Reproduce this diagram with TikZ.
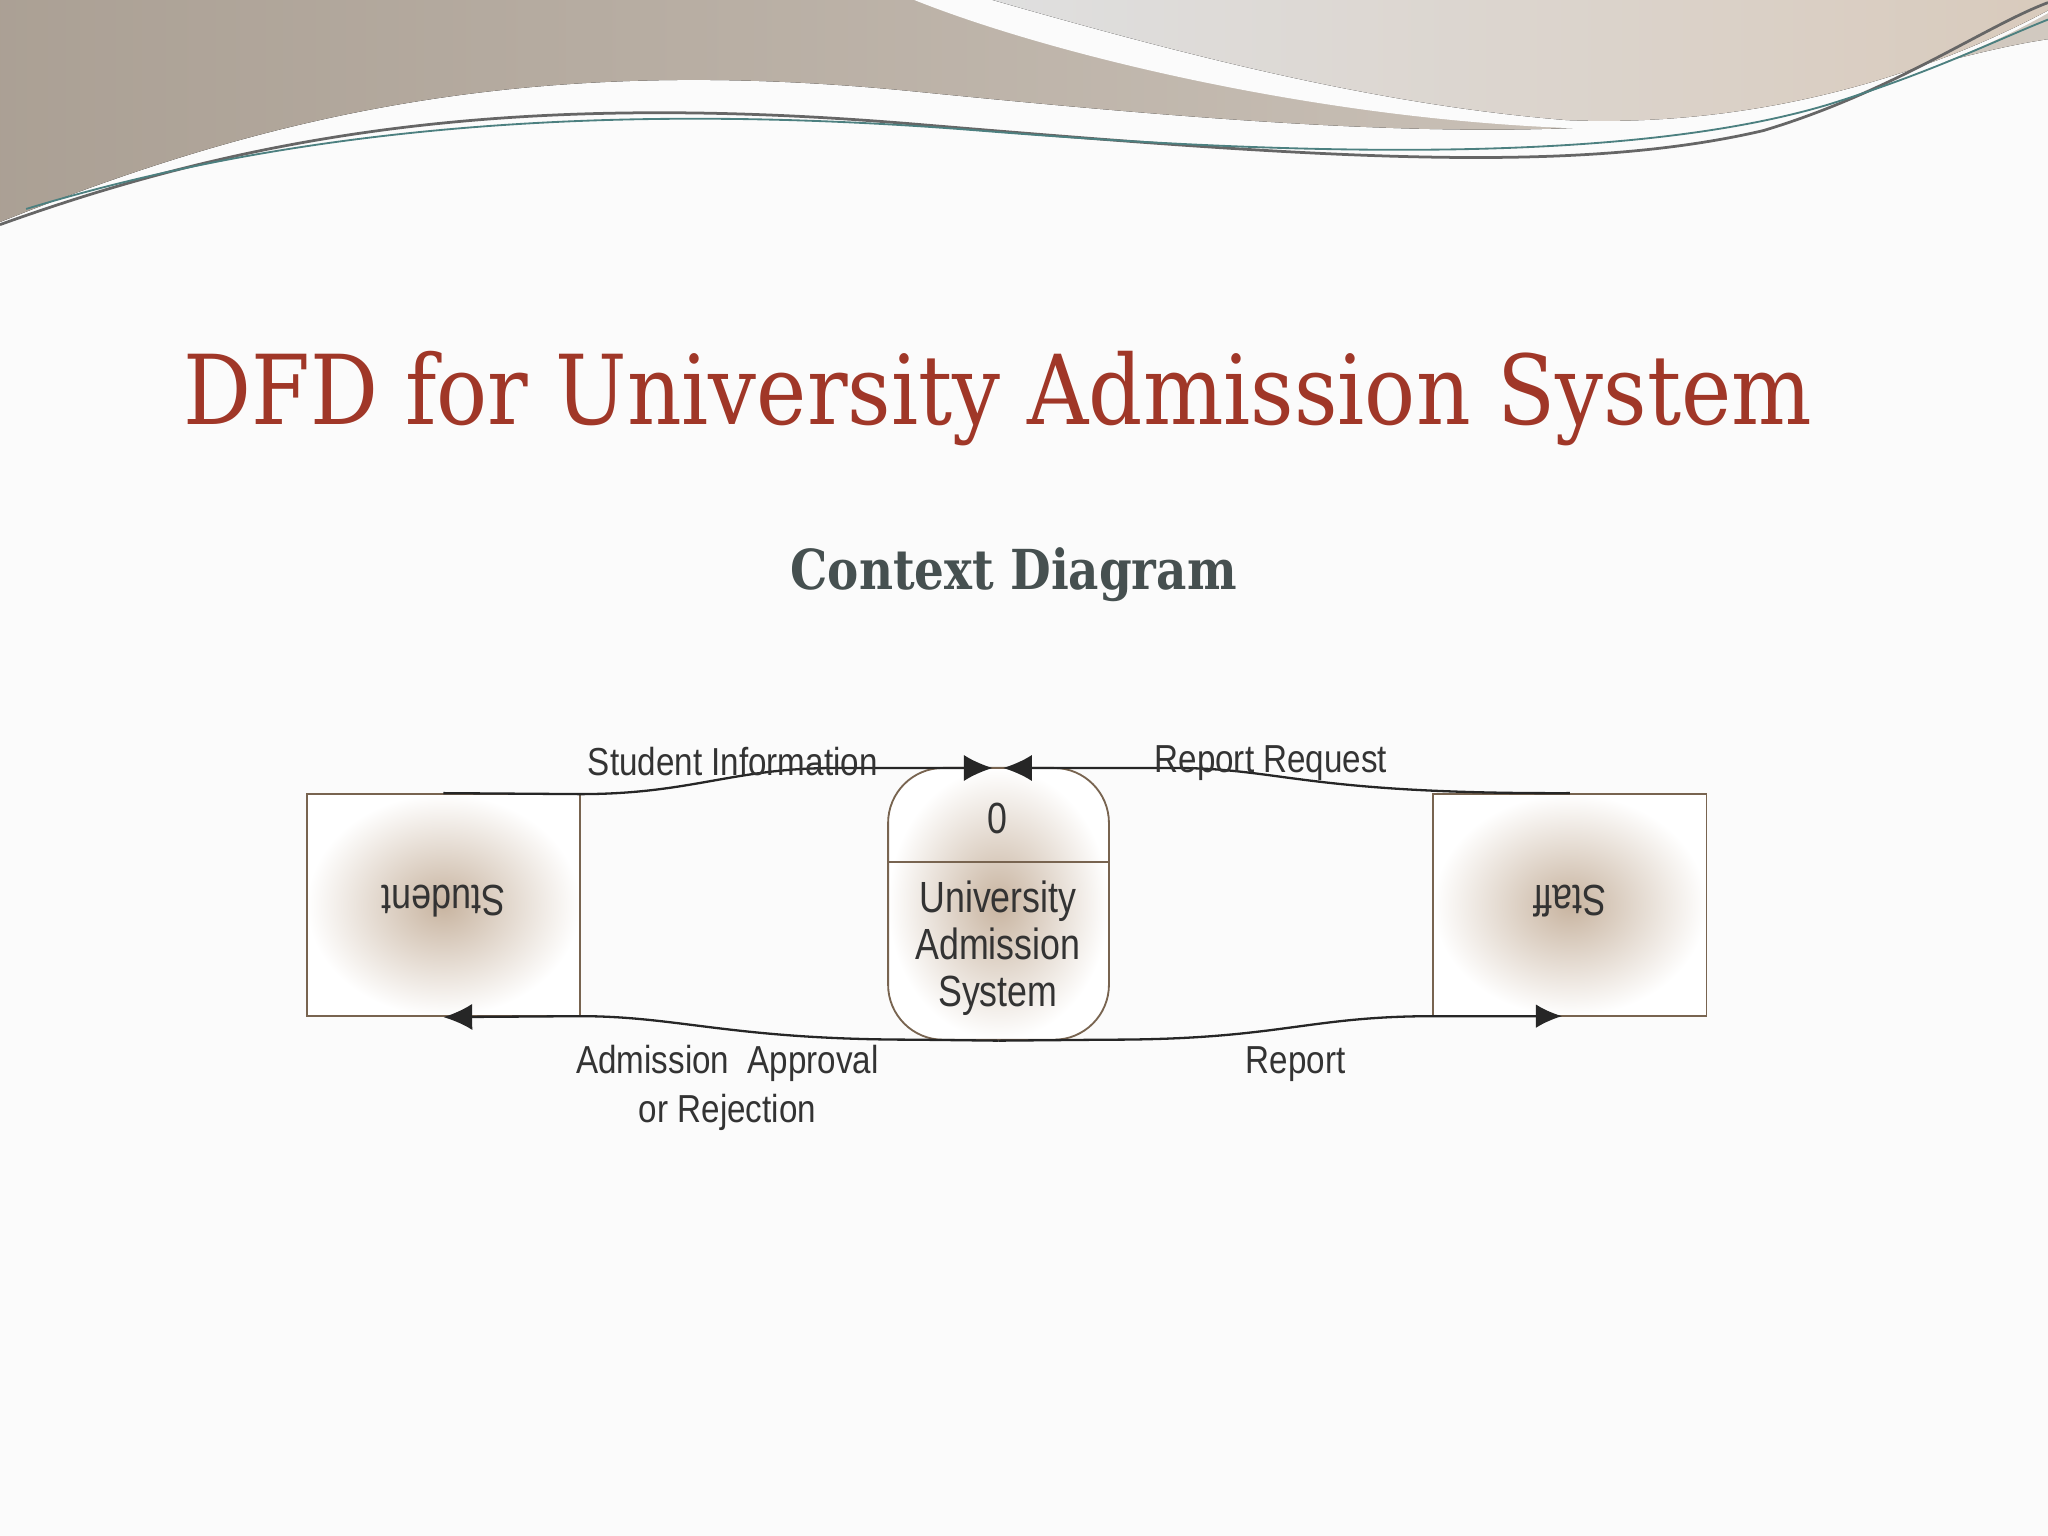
\documentclass[tikz,border=0pt]{standalone}
\usepackage{fontspec}
\setmainfont{Liberation Sans}
\newfontfamily\titlefont{DejaVu Serif}
\usetikzlibrary{arrows.meta}
\definecolor{tan}{RGB}{200,180,160}
\definecolor{wave}{RGB}{190,178,165}
\definecolor{edgeb}{RGB}{120,100,80}
\tikzset{
  entity/.style={draw=edgeb,inner color=tan,outer color=white,minimum width=2.09cm,minimum height=1.7cm,inner sep=0},
  flow/.style={draw=black!85,line width=0.5pt,-{Latex[length=2.2mm,width=2mm]}},
  lbl/.style={font=\fontsize{8.5}{10.5}\selectfont\addfontfeature{FakeStretch=0.85},text=black!80,align=center},
  big/.style={font=\fontsize{9.5}{10.3}\selectfont\addfontfeature{FakeStretch=0.82}},
}
\begin{document}
\begin{tikzpicture}[x=0.01cm,y=-0.01cm]
\fill[white!97!gray] (0,0) rectangle (1568,1176);
\useasboundingbox (0,0) rectangle (1568,1176);
% top wave
\fill[left color=wave!90!black,right color=wave!70] (0,0) -- (0,170) .. controls (200,90) and (400,40) .. (700,70) .. controls (950,95) and (1150,110) .. (1300,90) .. controls (1420,70) and (1500,40) .. (1568,30) -- (1568,0) -- cycle;
\fill[white!97!gray] (700,0) .. controls (800,40) and (1000,90) .. (1200,98) .. controls (1350,100) and (1480,60) .. (1568,10) -- (1568,0) -- cycle;
\fill[left color=gray!25,right color=tan!70] (760,0) .. controls (900,40) and (1050,80) .. (1200,92) .. controls (1350,98) and (1480,55) .. (1568,8) -- (1568,0) -- cycle;
\draw[black!60,line width=0.6pt] (0,172) .. controls (200,100) and (400,70) .. (700,95) .. controls (1000,120) and (1200,135) .. (1350,100) .. controls (1450,70) and (1520,20) .. (1568,2);
\draw[gray!60!teal,line width=0.4pt] (20,160) .. controls (250,90) and (500,80) .. (750,100) .. controls (1000,120) and (1250,125) .. (1400,80) .. controls (1480,55) and (1530,30) .. (1568,15);
% titles
\node (title) at (764,305) {\titlefont\fontsize{21}{26}\selectfont\addfontfeature{FakeStretch=0.88}\color[RGB]{160,55,40}DFD for University Admission System};
\node (sub) at (776,440) {\titlefont\bfseries\fontsize{12}{15}\selectfont\addfontfeature{FakeStretch=0.85}\color[RGB]{70,80,80}Context Diagram};
% entities
\node[entity] (stu) at (339.5,693) {};
\node[lbl,big,rotate=180] at (339.5,690) {Student};
\node[entity] (stf) at (1202,693) {};
\node[lbl,big,rotate=180] at (1202,690) {Staff};
% process
\node[draw=edgeb,rounded corners=12pt,minimum width=1.69cm,minimum height=2.08cm,inner color=tan,outer color=white] (proc) at (764.5,692) {};
\draw[edgeb] (680,660) -- (849,660);
\node[lbl,big] (pid) at (764,627) {0};
\node[lbl,big] (pname) at (764,726) {University\\Admission\\System};
% flows
\coordinate (a1) at (760,588);
\coordinate (a2) at (768,588);
\draw[flow] (stu.north) -- (444,608) .. controls (530,608) and (560,588) .. (640,588) -- (a1);
\draw[flow] (stf.north) .. controls (1000,608) and (980,588) .. (900,588) -- (a2);
\draw[flow] (proc.south) -- (700,796) .. controls (560,796) and (520,778) .. (444,778) -- (stu.south);
\draw[flow,-{Latex[length=2mm,width=1.8mm]}] (proc.south) -- (849,796) .. controls (980,796) and (1000,778) .. (1098,778) -- (1196,778);
% labels
\node[lbl] at (561,583) {Student Information};
\node[lbl] at (973,584) {Report Request};
\node[lbl] at (557,833) {Admission\ \ Approval\\or Rejection};
\node[lbl] at (992,815) {Report};
\end{tikzpicture}
\end{document}
